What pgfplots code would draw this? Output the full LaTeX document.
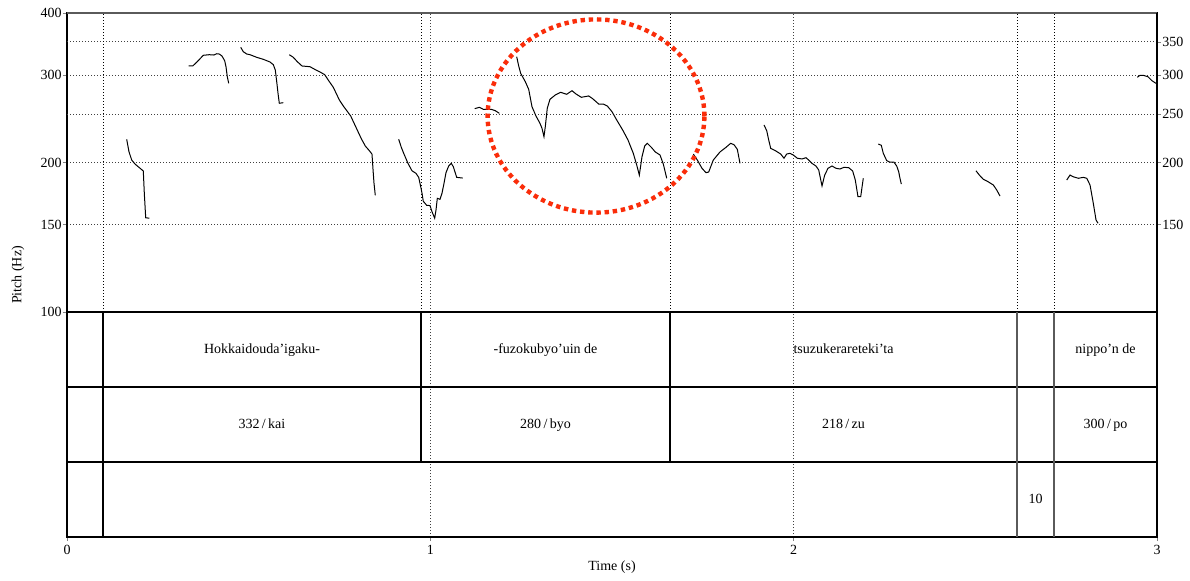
\documentclass[border=0pt]{standalone}
\usepackage{pgfplots}
\pgfplotsset{compat=1.18}
\usepackage{fontspec}
\setmainfont{Liberation Serif}
\definecolor{circ}{RGB}{250,45,10}
\definecolor{frm}{RGB}{90,90,90}
\tikzset{tl/.style={text height=5pt, text depth=1.5pt, inner sep=0pt}}
\begin{document}
\begin{tikzpicture}[font=\fontsize{7}{8}\selectfont]
\path[use as bounding box] (0,0) rectangle (595pt,-290pt);
\pgfplotsset{
  every axis/.append style={font=\fontsize{7}{8}\selectfont},
  /pgf/number format/assume math mode=true,
  gridst/.style={black!75, line width=0.4pt, dash pattern=on 0.5pt off 1pt},
  ct/.style={black, line width=0.5pt},
  tb/.style={black, line width=0.6pt},
}
% ---------- pitch axis (left ticks, contours) ----------
\begin{axis}[
  at={(33.5pt,-6.5pt)}, anchor=north west,
  width=545pt, height=149.5pt, scale only axis,
  xmin=0, xmax=3, ymode=log, ymin=100, ymax=400,
  axis line style={black, line width=0.6pt},
  tick align=outside, major tick length=2pt,
  ytick={100,150,200,300,400}, yticklabels={100,150,200,300,400},
  ytick pos=left, yticklabel style={inner sep=0.5pt},
  extra y ticks={250,350}, extra y tick labels={},
  extra y tick style={major tick length=0pt, ymajorgrids=true},
  ymajorgrids, xmajorgrids,
  grid style={gridst},
  xtick={1,2}, xticklabels={}, xtick style={draw=none},
  clip=false,
]
% tier boundaries extended (dotted)
\addplot[black, line width=0.4pt, dash pattern=on 0.5pt off 1pt] coordinates {(0.0991,100) (0.0991,400)};
\addplot[black, line width=0.4pt, dash pattern=on 0.5pt off 1pt] coordinates {(0.9743,100) (0.9743,400)};
\addplot[black, line width=0.4pt, dash pattern=on 0.5pt off 1pt] coordinates {(1.6596,100) (1.6596,400)};
\addplot[black, line width=0.4pt, dash pattern=on 0.5pt off 1pt] coordinates {(2.6147,100) (2.6147,400)};
\addplot[black, line width=0.4pt, dash pattern=on 0.5pt off 1pt] coordinates {(2.7165,100) (2.7165,400)};
% pitch contours
\addplot[ct] coordinates {(0.1643,222.7) (0.1706,210.2) (0.1781,202.3) (0.1872,198.6) (0.2100,192.3) (0.2128,173.4) (0.2166,154.8) (0.2265,154.5)};
\addplot[ct] coordinates {(0.3350,312.9) (0.3460,312.9) (0.3586,319.2) (0.3751,328.8) (0.3917,329.7) (0.4046,329.2) (0.4120,331.2) (0.4192,330.7) (0.4266,327.7) (0.4340,320.6) (0.4376,311.8) (0.4412,297.7) (0.4451,288.7)};
\addplot[ct] coordinates {(0.4781,341.2) (0.4852,334.3) (0.4946,330.8) (0.5037,329.7) (0.5221,325.7) (0.5403,322.7) (0.5587,318.7) (0.5678,314.8) (0.5733,307.1) (0.5772,290.9) (0.5808,275.6) (0.5843,263.2) (0.5953,263.9)};
\addplot[ct] coordinates {(0.6118,329.7) (0.6228,325.7) (0.6339,319.2) (0.6468,312.9) (0.6688,311.8) (0.6817,308.1) (0.6963,304.3) (0.7093,300.5) (0.7203,292.2) (0.7330,283.4) (0.7495,267.3) (0.7605,259.9) (0.7809,248.1) (0.7954,235.4) (0.8100,223.4) (0.8210,215.9) (0.8320,211.3) (0.8394,208.0) (0.8430,190.2) (0.8450,181.6) (0.8485,171.8)};
\addplot[ct] coordinates {(0.9129,222.7) (0.9201,214.6) (0.9275,208.0) (0.9385,199.2) (0.9495,192.5) (0.9605,190.2) (0.9680,186.7) (0.9735,178.8) (0.9771,173.4) (0.9806,167.1) (0.9900,164.0) (0.9991,163.8) (1.0046,159.2) (1.0120,154.5) (1.0156,160.5) (1.0192,169.4) (1.0266,168.6) (1.0321,173.4) (1.0376,181.6) (1.0431,190.8) (1.0505,196.8) (1.0577,199.2) (1.0632,196.2) (1.0726,186.7) (1.0891,186.1)};
\addplot[ct] coordinates {(1.1221,256.7) (1.1348,258.3) (1.1458,255.9) (1.1678,255.9) (1.1788,254.3) (1.1898,251.2)};
\addplot[ct] coordinates {(1.2377,326.6) (1.2432,312.9) (1.2487,302.4) (1.2614,290.9) (1.2707,280.8) (1.2798,259.0) (1.2908,248.1) (1.3018,239.8) (1.3073,234.4) (1.3128,225.4) (1.3164,236.1) (1.3219,257.2) (1.3293,268.1) (1.3439,273.5) (1.3588,276.9) (1.3753,274.4) (1.3899,279.0) (1.4009,274.8) (1.4155,270.6) (1.4359,272.3) (1.4469,268.8) (1.4634,262.3) (1.4761,262.3) (1.4871,259.9) (1.5000,253.1) (1.5129,243.6) (1.5294,232.5) (1.5440,222.0) (1.5586,208.7) (1.5680,197.7) (1.5752,188.7) (1.5826,205.5) (1.5900,215.9) (1.5972,218.6) (1.6082,214.6) (1.6192,210.0) (1.6321,207.1) (1.6412,198.6) (1.6506,185.9)};
\addplot[ct] coordinates {(1.7238,208.0) (1.7348,202.3) (1.7477,194.7) (1.7587,190.8) (1.7661,191.4) (1.7788,202.3) (1.7972,210.0) (1.8138,214.6) (1.8267,218.6) (1.8358,217.2) (1.8449,212.6) (1.8523,199.2)};
\addplot[ct] coordinates {(1.9184,238.0) (1.9258,231.8) (1.9313,222.0) (1.9368,213.6) (1.9495,211.3) (1.9643,208.0) (1.9734,204.0) (1.9808,208.0) (1.9899,208.7) (1.9990,207.1) (2.0100,204.0) (2.0229,203.3) (2.0339,204.5) (2.0413,202.3) (2.0504,199.2) (2.0614,196.8) (2.0689,193.2) (2.0780,179.4) (2.0854,188.7) (2.0945,194.7) (2.1055,196.8) (2.1165,194.7) (2.1275,194.1) (2.1385,195.6) (2.1514,195.3) (2.1624,192.3) (2.1696,184.4) (2.1770,170.7) (2.1845,170.7) (2.1916,185.9)};
\addplot[ct] coordinates {(2.2330,217.9) (2.2412,216.6) (2.2467,208.7) (2.2561,201.7) (2.2651,200.3) (2.2761,200.3) (2.2836,196.8) (2.2891,191.6) (2.2926,185.9) (2.2963,181.0)};
\addplot[ct] coordinates {(2.5018,192.5) (2.5110,188.7) (2.5220,185.0) (2.5349,183.0) (2.5495,180.2) (2.5588,176.1) (2.5679,171.2)};
\addplot[ct] coordinates {(2.7515,184.4) (2.7606,188.7) (2.7697,187.2) (2.7835,185.9) (2.7972,186.7) (2.8066,185.9) (2.8157,180.2) (2.8247,165.5) (2.8322,153.2) (2.8377,150.9)};
\addplot[ct] coordinates {(2.9458,296.9) (2.9532,299.6) (2.9623,299.6) (2.9752,297.7) (2.9862,292.2) (2.9972,288.7)};
% frame edges in grey
\draw[frm, line width=0.7pt] (rel axis cs:0,1) -- (rel axis cs:1,1);
\draw[frm, line width=0.7pt] (rel axis cs:0,0) -- (rel axis cs:1,0);
% annotation ellipse
\draw[circ, line width=2.2pt, dash pattern=on 2.2pt off 1.9pt] (axis cs:1.456,248.1) ellipse [x radius=54.2pt, y radius=48.3pt];
\end{axis}
% ---------- pitch axis (right ticks) ----------
\begin{axis}[
  at={(33.5pt,-6.5pt)}, anchor=north west,
  width=545pt, height=149.5pt, scale only axis,
  xmin=0, xmax=3, ymode=log, ymin=100, ymax=400,
  hide x axis, axis y line*=right,
  axis line style={black, line width=0.6pt},
  tick align=outside, major tick length=2pt,
  ytick={150,200,250,300,350}, yticklabels={150,200,250,300,350},
  yticklabel style={inner sep=0.5pt},
]
\addplot[draw=none] coordinates {(0,150)};
\end{axis}
% ---------- tiers ----------
\begin{axis}[
  at={(33.5pt,-156pt)}, anchor=north west,
  width=545pt, height=112.5pt, scale only axis,
  xmin=0, xmax=3, ymin=0, ymax=3,
  axis line style={black, line width=0.6pt},
  ytick=\empty,
  xtick={0,1,2,3}, xticklabels={0,1,2,3}, xtick pos=bottom,
  tick align=outside, major tick length=2pt,
  xmajorgrids, grid style={gridst},
  xlabel={Time (s)},
  xlabel style={at={(axis description cs:0.5,0)}, anchor=center, yshift=-15pt},
  xticklabel style={inner sep=1pt, yshift=-1pt},
  clip=false,
]
\addplot[tb] coordinates {(0,2) (3,2)};
\addplot[tb] coordinates {(0,1) (3,1)};
\addplot[tb] coordinates {(0.0991,0) (0.0991,3)};
\addplot[tb] coordinates {(0.9743,1) (0.9743,3)};
\addplot[tb] coordinates {(1.6596,1) (1.6596,3)};
\addplot[frm, line width=0.6pt] coordinates {(2.6147,0) (2.6147,3)};
\addplot[frm, line width=0.6pt] coordinates {(2.7165,0) (2.7165,3)};
\node[tl] at (axis cs:0.5367,2.5) {Hokkaidouda’igaku-};
\node[tl] at (axis cs:1.3170,2.5) {-fuzokubyo’uin de};
\node[tl] at (axis cs:2.1372,2.5) {tsuzukerareteki’ta};
\node[tl] at (axis cs:2.8583,2.5) {nippo’n de};
\node[tl] at (axis cs:0.5367,1.5) {332\,/\,kai};
\node[tl] at (axis cs:1.3170,1.5) {280\,/\,byo};
\node[tl] at (axis cs:2.1372,1.5) {218\,/\,zu};
\node[tl] at (axis cs:2.8583,1.5) {300\,/\,po};
\node[tl] at (axis cs:2.6656,0.5) {10};
\end{axis}
\node[rotate=90] at (9pt,-137.5pt) {Pitch (Hz)};
\end{tikzpicture}
\end{document}
